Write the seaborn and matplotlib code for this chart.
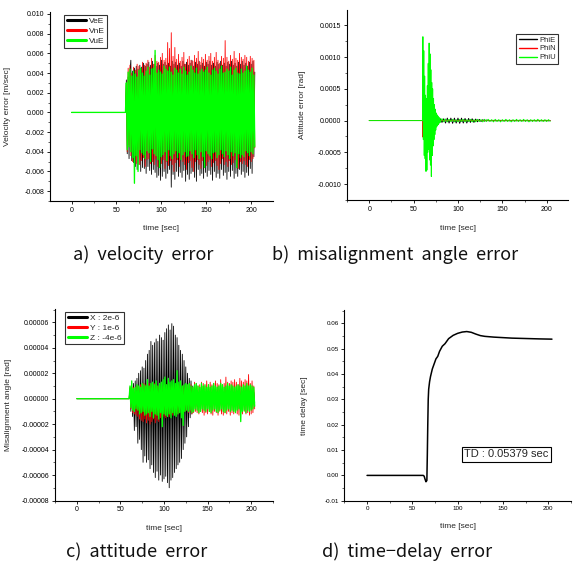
import numpy as np
import matplotlib
matplotlib.use("Agg")
import matplotlib.pyplot as plt
import seaborn as sns
from matplotlib.ticker import MultipleLocator, FormatStrFormatter

sns.set_style("ticks")
plt.rcParams["font.family"] = ["Liberation Sans", "DejaVu Sans"]

# ---- a) velocity error, 1 s samples from t=60 s, units 1e-4 m/s ----
ve_e = [0, 33, -42, 36, -47, 40, 53, -49, 42, -51,
        45, -55, 47, -58, 44, -53, 48, -60, 46, -56,
        50, -57, 47, -62, 49, -55, 51, -59, 48, -63,
        52, -58, 49, -61, 47, -66, 50, -64, 48, -69,
        53, -65, 49, -60, 51, -67, 48, -62, 50, -58,
        47, -76, 52, -63, 49, -68, 51, -60, 48, -65,
        50, -61, 47, -66, 52, -59, 49, -70, 51, -63,
        48, -68, 50, -62, 53, -60, 47, -66, 51, -70,
        49, -58, 52, -64, 48, -62, 50, -67, 47, -61,
        51, -65, 49, -59, 52, -63, 48, -69, 50, -60,
        47, -66, 51, -62, 49, -67, 52, -58, 48, -64,
        50, -61, 47, -68, 51, -60, 49, -65, 52, -59,
        48, -67, 50, -62, 47, -65, 51, -58, 49, -63,
        52, -60, 48, -66, 50, -61, 47, -64, 51, -57,
        49, -62, 52, -45, 41]
vn_e = [0, 28, -40, 45, -33, 48, -44, 40, -50, 46,
        -47, 43, -52, 49, -45, 47, -53, 44, -49, 51,
        -46, 48, -55, 50, -48, 53, -47, 46, -52, 55,
        -50, 49, -53, 58, -47, 52, -55, 51, -49, 56,
        -52, 60, -48, 53, -57, 55, -50, 71, -54, 65,
        -49, 81, -53, 57, -60, 66, -51, 54, -48, 59,
        -55, 52, -47, 56, -50, 61, -53, 49, -58, 54,
        -51, 57, -49, 53, -56, 52, -60, 58, -50, 55,
        -48, 62, -53, 51, -57, 56, -49, 54, -52, 59,
        -54, 53, -50, 57, -48, 60, -55, 52, -51, 56,
        -49, 61, -54, 53, -58, 50, -52, 57, -47, 55,
        -53, 73, -50, 56, -55, 52, -49, 58, -53, 54,
        -51, 62, -48, 55, -54, 53, -57, 60, -50, 56,
        -52, 54, -49, 58, -53, 56, -55, 52, -48, 57,
        -50, 55, -47, 53, -36]
vu_e = [0, 30, -38, 41, -35, 44, -40, 37, -46, 42,
        -72, 39, -44, 36, -60, 43, -38, 45, -41, 40,
        -43, 37, -47, 42, -39, 46, -41, 38, -50, 44,
        -37, 45, -42, 63, -44, 40, -48, 43, -56, 41,
        -45, 39, -43, 47, -40, 44, -49, 42, -38, 46,
        -44, 41, -47, 38, -42, 45, -39, 43, -46, 40,
        -41, 44, -48, 39, -43, 46, -40, 42, -45, 38,
        -44, 41, -39, 47, -42, 43, -46, 40, -38, 45,
        -43, 39, -47, 42, -40, 44, -45, 41, -56, 43,
        -39, 46, -42, 40, -44, 38, -47, 43, -41, 45,
        -40, 42, -46, 39, -43, 44, -38, 47, -42, 40,
        -45, 41, -39, 44, -43, 42, -47, 46, -40, 38,
        -44, 43, -41, 45, -56, 40, -42, 39, -46, 44,
        -43, 40, -45, 42, -39, 47, -41, 43, -44, 41,
        -40, 45, -42, 38, -35]

# ---- b) misalignment angle error, units 1e-5 rad ----
phi_e = [0, -5, 8, -10, 10, -8, 6, -5, 4, -4, 3, -3, 3, -4, 4, -4, 4, -4.5,
         4, -4, 4, -4.5, 4, -4, 3.5, -4, 3.5, -3, 3, -3, 2.5, -2, 2, -1.5,
         1.5, -1, 1, -0.5, 0.5, -0.5, 0.5, -0.5, 0.5, -0.5, 0.5, -0.5, 0.5,
         -0.5, 0.5, -0.5, 0.5, -0.5, 0.5, -0.5, 0.5, -0.5, 0.5, -0.5, 0.5,
         -0.5, 0.5, -0.5, 0.5, -0.5, 0.5, -0.5, 0.5, -0.5, 0.5, -0.5, 0.5,
         -0.5, 0]                                   # every 2 s from 60 s
phi_n = [0, -26, 10, -15, 12, -10, 9, -8, 8, -7, 6, -6, 5, -5, 5, -4, 4, -4,
         3, -3, 3, -3, 2, -2, 2, -2, 2, -1.5, 1.5, -1.5, 1, -1, 1, -1, 1,
         -0.5, 0.5, -0.5, 0.5, 0]                    # every 0.5 s from 60 s
phi_u_fast = [0, 132, -30, 110, -55, 70, -60, 40, -80, 35, -78, 55, -50, 90,
              -45, 122, -62, 105, -70, 80, -88, 60, -55, 50, -40, 35, -30, 25,
              -22, 18, -15, 12, -10, 9, -8, 7, -6, 5, -4, 4]   # 0.5 s from 60 s
phi_u_slow = [-3, 3, -2, 2.5, -2, 2, -1.5, 2, -2, 1.5, -2, 2, -1.5, 2, -2,
              1.5, -1.5, 2, -2, 1.5, -2, 2, -1.5, 1.5, -2, 2, -1.5, 2, -1.5,
              1.5, -2, 2, -1.5, 1.5, -2, 1.5, -1.5, 2, -1.5, 1.5, -2, 1.5,
              -1.5, 2, -1.5, 1.5, -1.5, 2, -1.5, 1.5, -2, 1.5, -1.5, 1.5,
              -1.5, 2, -1.5, 1.5, -1.5, 1.5, -1.5, 1.5, -1]   # 2 s from 80 s

# ---- c) attitude error, 1 s samples from t=60 s, units 1e-6 rad ----
mis_x = [0, 8, -10, 9, -14, 12, -25, 14, -22, 16,
         -35, 20, -32, 22, -40, 25, -50, 24, -45, 30,
         -50, 35, -48, 38, -55, 45, -52, 42, -58, 44,
         -62, 47, -57, 45, -64, 50, -60, 48, -65, 46,
         -63, 52, -61, 55, -66, 58, -70, 54, -64, 59,
         -62, 57, -58, 50, -55, 48, -52, 42, -50, 38,
         -47, 35, -40, 30, -35, 25, -30, 20, -22, 16,
         -15, 14, -12, 10, -9, 8, -7, 6, -6, 5,
         -5, 5, -4, 5, -5, 4, -4, 5, -5, 4,
         -4, 5, -5, 4, -4, 5, -4, 4, -5, 4,
         -4, 5, -4, 4, -5, 4, -4, 5, -4, 4,
         -5, 4, -4, 5, -4, 4, -5, 4, -4, 5,
         -4, 4, -5, 4, -4, 5, -4, 4, -5, 4,
         -4, 5, -4, 4, -5, 4, -4, 5, -4, 4,
         -5, 4, -4, 5, -3]
mis_y = [0, 9, -8, 10, -11, 9, -12, 8, -13, 10,
         -14, 9, -16, 11, -17, 10, -18, 12, -16, 11,
         -19, 10, -17, 12, -20, 11, -18, 10, -16, 12,
         -19, 11, -17, 10, -18, 9, -15, 11, -16, 10,
         -14, 9, -15, 11, -13, 10, -14, 9, -12, 10,
         -13, 11, -12, 9, -11, 10, -12, 11, -10, 9,
         -11, 10, -12, 9, -10, 11, -9, 10, -11, 12,
         -10, 11, -12, 9, -11, 13, -10, 12, -11, 10,
         -12, 11, -10, 13, -11, 12, -13, 10, -11, 14,
         -12, 11, -10, 13, -12, 11, -13, 12, -10, 14,
         -11, 12, -13, 11, -10, 15, -12, 11, -13, 12,
         -11, 17, -12, 13, -10, 12, -13, 14, -11, 13,
         -12, 15, -10, 13, -12, 11, -13, 16, -11, 14,
         -12, 13, -10, 15, -12, 14, -11, 19, -13, 12,
         -12, 14, -11, 10, -8]
mis_z = [0, 10, -7, 14, -9, 8, -10, 9, -8, 11,
         -9, 10, -12, 9, -11, 12, -10, 11, -13, 10,
         -12, 15, -11, 10, -14, 12, -10, 13, -15, 11,
         -12, 14, -13, 10, -16, 12, -11, 13, -22, 15,
         -12, 17, -13, 11, -14, 16, -12, 13, -15, 14,
         -11, 15, -13, 12, -14, 22, -12, 13, -11, 14,
         -15, 10, -21, 11, -10, 12, -9, 11, -10, 12,
         -9, 10, -11, 9, -10, 11, -8, 12, -9, 10,
         -11, 9, -10, 12, -8, 10, -9, 11, -10, 9,
         -8, 11, -10, 9, -11, 10, -9, 12, -8, 10,
         -10, 9, -11, 10, -9, 12, -8, 11, -10, 9,
         -11, 10, -9, 12, -8, 10, -10, 11, -9, 10,
         -10, 9, -11, 10, -9, 11, -8, 10, -18, 9,
         -10, 11, -9, 10, -11, 12, -9, 10, -10, 11,
         -9, 10, -8, 9, -6]

# ---- d) time-delay error ----
td_t = [0, 62, 63, 64, 65, 66, 66.5, 67, 67.5, 68, 69, 70, 72, 74, 76, 78, 80,
        83, 86, 90, 95, 100, 105, 110, 115, 120, 125, 130, 140, 150, 160, 170,
        180, 190, 204]
td_v = [0, 0, -0.0003, -0.0015, -0.0025, -0.002, 0.008, 0.02, 0.03, 0.034,
        0.037, 0.039, 0.042, 0.044, 0.046, 0.047, 0.049, 0.051, 0.052, 0.054,
        0.0553, 0.0561, 0.0566, 0.0568, 0.0565, 0.0558, 0.0552, 0.0549, 0.0546,
        0.0544, 0.0542, 0.0541, 0.054, 0.0539, 0.0538]

legend_a = ["VeE", "VnE", "VuE"]
legend_b = ["PhiE", "PhiN", "PhiU"]
legend_c = ["X : 2e-6", "Y : 1e-6", "Z : -4e-6"]
colors = ["black", "red", "#00ff00"]
widths = [0.6, 0.6, 0.95]


def series(vals, scale, step=1.0, start=60.0):
    t = np.r_[0.0, start + step * np.arange(len(vals))]
    return t, np.r_[0.0, np.array(vals, dtype=float)] * scale


def style_axis(ax, xlim, ylim, ymajor, fmt, ylabel, ylab_x, xlab_y, tsize=5):
    ax.set_xlim(*xlim)
    ax.set_ylim(*ylim)
    ax.xaxis.set_major_locator(MultipleLocator(50))
    ax.xaxis.set_minor_locator(MultipleLocator(25))
    ax.yaxis.set_major_locator(MultipleLocator(ymajor))
    ax.yaxis.set_minor_locator(MultipleLocator(ymajor / 2))
    ax.yaxis.set_major_formatter(FormatStrFormatter(fmt))
    ax.xaxis.set_major_formatter(FormatStrFormatter("%d"))
    sns.despine(ax=ax)
    for s in ["left", "bottom"]:
        ax.spines[s].set_linewidth(0.8)
        ax.spines[s].set_color("black")
    ax.tick_params(which="major", direction="out", length=2.5, width=0.6,
                   labelsize=tsize, pad=1.5, colors="black")
    ax.tick_params(which="minor", direction="out", length=1.5, width=0.5)
    ax.set_xlabel("time [sec]", fontsize=6)
    ax.set_ylabel(ylabel, fontsize=6)
    ax.yaxis.set_label_coords(ylab_x, 0.5)
    ax.xaxis.set_label_coords(0.5, xlab_y)


def boxed_legend(ax, anchor, loc, size, handle_lw, **kw):
    leg = ax.legend(loc=loc, bbox_to_anchor=anchor, fontsize=size, frameon=True,
                    fancybox=False, borderaxespad=0, borderpad=0.3, **kw)
    leg.get_frame().set_edgecolor("black")
    leg.get_frame().set_linewidth(0.8)
    for h in leg.get_lines():
        h.set_linewidth(handle_lw)


fig = plt.figure(figsize=(5.73, 5.72), dpi=100)
ax_a = fig.add_axes([0.0873, 0.6486, 0.3887, 0.3304])
ax_b = fig.add_axes([0.6056, 0.6503, 0.3857, 0.3322])
ax_c = fig.add_axes([0.0960, 0.1250, 0.3804, 0.3348])
ax_d = fig.add_axes([0.6010, 0.1246, 0.3955, 0.3334])

# a)
for vals, lab, c, w in zip([ve_e, vn_e, vu_e], legend_a, colors, widths):
    t, y = series(vals, 1e-4)
    sns.lineplot(x=t, y=y, ax=ax_a, color=c, lw=w, label=lab,
                 estimator=None, sort=False)
style_axis(ax_a, (-24, 224), (-0.009, 0.0102), 0.002, "%.3f",
           "Velocity error [m/sec]", -0.175, -0.127)
boxed_legend(ax_a, (0.063, 0.984), "upper left", 6, 2.2,
             labelspacing=0.25, handlelength=2.3, handletextpad=0.4)

# b)
t, y = series(phi_e, 1e-5, step=2.0)
sns.lineplot(x=np.r_[t, 204.0], y=np.r_[y, 0.0], ax=ax_b, color=colors[0],
             lw=0.6, label=legend_b[0], estimator=None, sort=False)
t, y = series(phi_n, 1e-5, step=0.5)
sns.lineplot(x=np.r_[t, 204.0], y=np.r_[y, 0.0], ax=ax_b, color=colors[1],
             lw=0.6, label=legend_b[1], estimator=None, sort=False)
t = np.r_[0.0, 60 + 0.5 * np.arange(len(phi_u_fast)),
          80 + 2.0 * np.arange(len(phi_u_slow))]
y = np.r_[0.0, phi_u_fast, phi_u_slow] * 1e-5
sns.lineplot(x=t, y=y, ax=ax_b, color=colors[2], lw=0.7, label=legend_b[2],
             estimator=None, sort=False)
style_axis(ax_b, (-25, 224), (-0.00125, 0.00174), 0.0005, "%.4f",
           "Attitude error [rad]", -0.184, -0.13)
boxed_legend(ax_b, (0.955, 0.874), "upper right", 5.5, 1.0,
             labelspacing=0.2, handlelength=2.4, handletextpad=0.3)

# c)
for vals, lab, c, w in zip([mis_x, mis_y, mis_z], legend_c, colors, widths):
    t, y = series(vals, 1e-6)
    sns.lineplot(x=t, y=y, ax=ax_c, color=c, lw=w, label=lab,
                 estimator=None, sort=False)
style_axis(ax_c, (-25, 225), (-0.00008, 0.0000705), 0.00002, "%.5f",
           "Misalignment angle [rad]", -0.197, -0.127)
boxed_legend(ax_c, (0.046, 0.986), "upper left", 6, 2.2,
             labelspacing=0.25, handlelength=2.3, handletextpad=0.4)

# d)
sns.lineplot(x=td_t, y=td_v, ax=ax_d, color="black", lw=1.1,
             estimator=None, sort=False)
style_axis(ax_d, (-25, 225), (-0.01, 0.0653), 0.01, "%.2f",
           "time delay [sec]", -0.16, -0.117, tsize=4.5)
ax_d.text(153.5, 0.0083, "TD : 0.05379 sec", fontsize=8, ha="center", va="center",
          bbox=dict(boxstyle="square,pad=0.2", fc="white", ec="black", lw=0.8))

# captions
cap_font = ["Noto Sans CJK KR", "DejaVu Sans"]
captions = [(0.2496, 0.554, "a)  velocity  error"),
            (0.689, 0.554, "b)  misalignment  angle  error"),
            (0.239, 0.035, "c)  attitude  error"),
            (0.710, 0.035, "d)  time\u2212delay  error")]
for x, y, s in captions:
    fig.text(x, y, s, fontsize=13, ha="center", va="center", family=cap_font,
             weight="light", color="#111111")

fig.savefig("out.png", dpi=100, facecolor="white")
